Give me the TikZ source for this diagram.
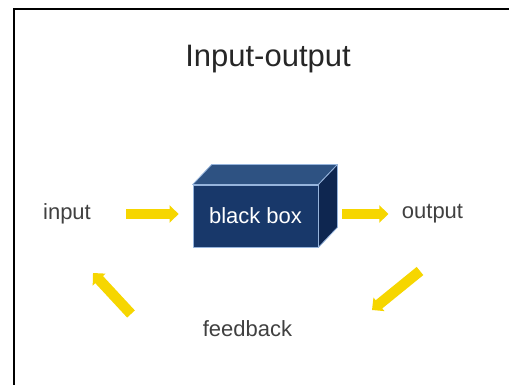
\documentclass[tikz,border=0pt]{standalone}
\usepackage{fontspec}
\setmainfont{Liberation Sans}
\usepackage{tikz}
\usetikzlibrary{arrows.meta,positioning,calc}

\definecolor{boxfront}{RGB}{24,56,106}
\definecolor{boxtop}{RGB}{46,82,130}
\definecolor{boxside}{RGB}{14,38,80}
\definecolor{boxedge}{RGB}{150,180,220}
\definecolor{flowyellow}{RGB}{246,214,0}
\definecolor{labelgrey}{RGB}{64,64,64}

\tikzset{
  label text/.style={text=labelgrey,font=\fontsize{22}{26}\selectfont},
  flow/.style={draw=flowyellow,line width=10.5pt,
    -{Triangle[length=9pt,width=17pt]}},
  face/.style={draw=boxedge,line width=0.8pt,line join=round}
}

\begin{document}
\begin{tikzpicture}[x=1pt,y=-1pt]

\useasboundingbox (0,0) rectangle (509,385);
\draw[line width=1.6pt] (509,9) -- (14,9) -- (14,385);

\node[font=\fontsize{31}{36}\selectfont,text=black!85] (title) at (268,59) {Input-output};

\node[face,fill=boxfront,minimum width=125pt,minimum height=62pt,
      text=white,font=\fontsize{22}{26}\selectfont] (bbox) at (255.5,216) {};
\fill[face,fill=boxtop] (bbox.north west) -- ++(19,-20)
   -- ([shift={(19,-20)}]bbox.north east) -- (bbox.north east) -- cycle;
\fill[face,fill=boxside] (bbox.north east) -- ++(19,-20)
   -- ([shift={(19,-20)}]bbox.south east) -- (bbox.south east) -- cycle;
\node[text=white,font=\fontsize{22}{26}\selectfont] at (bbox) {black box};

\node[label text] (input) at (67,214) {input};
\node[label text] (output) at (432.5,214) {output};
\node[label text] (feedback) at (247.5,329) {feedback};

\draw[flow,shorten <=32pt,shorten >=14pt] (input.east) -- (input.east -| bbox.west);
\draw[flow,shorten <=24pt,shorten >=10pt] (output.west -| bbox.east) -- (output.west);

% feedback loop
\coordinate (fbr1) at (420,271);
\coordinate (fbr2) at (372,310);
\coordinate (fbl1) at (131,314);
\coordinate (fbl2) at (93,273);
\draw[flow] (fbr1) -- (fbr2);
\draw[flow] (fbl1) -- (fbl2);

\end{tikzpicture}
\end{document}
